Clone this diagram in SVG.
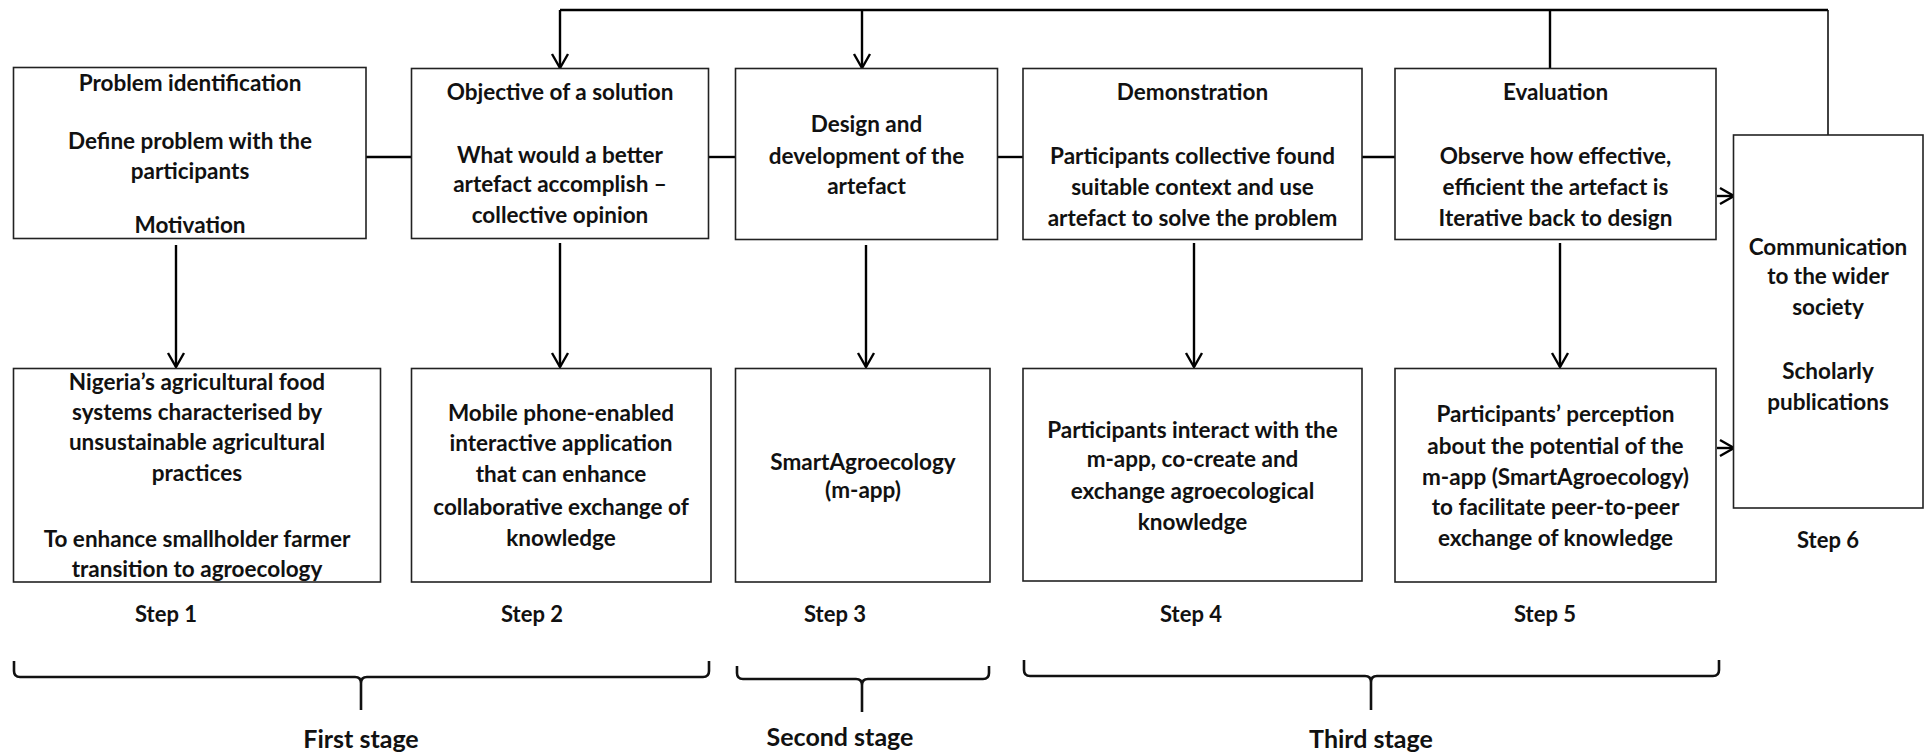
<svg xmlns="http://www.w3.org/2000/svg" width="1926" height="756" viewBox="0 0 1926 756">
  <defs>
    <marker id="arrow" viewBox="0 0 20 20" refX="18" refY="10" markerWidth="20" markerHeight="20" markerUnits="userSpaceOnUse" orient="auto">
      <path d="M4,2 L18,10 L4,18" fill="none" stroke="#000" stroke-width="2.4"/>
    </marker>
  </defs>
  <style>
    .box { fill: #fff; stroke: #222; stroke-width: 1.6; }
    .lbl { font-family: "Lato", "Liberation Sans", sans-serif; font-weight: bold; font-size: 22.5px; fill: #111; text-anchor: middle; }
    .step { font-family: "Lato", "Liberation Sans", sans-serif; font-weight: bold; font-size: 22px; fill: #111; text-anchor: middle; }
    .stage { font-family: "Lato", "Liberation Sans", sans-serif; font-weight: bold; font-size: 25px; fill: #111; text-anchor: middle; }
    .wire { fill: none; stroke: #000; stroke-width: 2.4; }
    .thin { fill: none; stroke: #111; stroke-width: 1.6; }
    .brace { fill: none; stroke: #111; stroke-width: 2.6; }
  </style>

  <!-- connectors -->
  <g id="connectors">
    <!-- feedback loop across the top -->
    <path class="wire" d="M560,10 H1828"/>
    <path class="wire" d="M560,10 V68" marker-end="url(#arrow)"/>
    <path class="wire" d="M862,10 V68" marker-end="url(#arrow)"/>
    <path class="wire" d="M1550,10 V69"/>
    <path class="thin" d="M1828,10 V135"/>
    <!-- links between the upper boxes -->
    <path class="wire" d="M366,157 H411"/>
    <path class="wire" d="M709,157 H736"/>
    <path class="wire" d="M997,157 H1023"/>
    <path class="wire" d="M1362,157 H1395"/>
    <!-- upper to lower row -->
    <path class="wire" d="M176,245 V367" marker-end="url(#arrow)"/>
    <path class="wire" d="M560,243 V367" marker-end="url(#arrow)"/>
    <path class="wire" d="M866,245 V367" marker-end="url(#arrow)"/>
    <path class="wire" d="M1194,243 V367" marker-end="url(#arrow)"/>
    <path class="wire" d="M1560,243 V367" marker-end="url(#arrow)"/>
    <!-- into step 6 -->
    <path class="wire" d="M1717,196 H1734" marker-end="url(#arrow)"/>
    <path class="wire" d="M1717,448 H1734" marker-end="url(#arrow)"/>
  </g>

  <!-- step 1 -->
  <g id="problem-identification">
    <rect class="box" x="13.5" y="67.5" width="352.5" height="171"/>
    <text class="lbl" x="190" y="91">Problem identification</text>
    <text class="lbl" x="190" y="149">Define problem with the</text>
    <text class="lbl" x="190" y="179">participants</text>
    <text class="lbl" x="190" y="233">Motivation</text>
  </g>
  <g id="step1-detail">
    <rect class="box" x="13.5" y="368.5" width="367" height="213.5"/>
    <text class="lbl" x="197" y="390">Nigeria’s agricultural food</text>
    <text class="lbl" x="197" y="419.5">systems characterised by</text>
    <text class="lbl" x="197" y="450">unsustainable agricultural</text>
    <text class="lbl" x="197" y="481">practices</text>
    <text class="lbl" x="197" y="547">To enhance smallholder farmer</text>
    <text class="lbl" x="197" y="576.5">transition to agroecology</text>
  </g>

  <!-- step 2 -->
  <g id="objective">
    <rect class="box" x="411.5" y="68.5" width="297" height="170"/>
    <text class="lbl" x="560" y="100">Objective of a solution</text>
    <text class="lbl" x="560" y="163">What would a better</text>
    <text class="lbl" x="560" y="192">artefact accomplish –</text>
    <text class="lbl" x="560" y="223">collective opinion</text>
  </g>
  <g id="step2-detail">
    <rect class="box" x="411.5" y="368.5" width="299.5" height="213.5"/>
    <text class="lbl" x="561" y="420.5">Mobile phone-enabled</text>
    <text class="lbl" x="561" y="451">interactive application</text>
    <text class="lbl" x="561" y="482">that can enhance</text>
    <text class="lbl" x="561" y="515">collaborative exchange of</text>
    <text class="lbl" x="561" y="546">knowledge</text>
  </g>

  <!-- step 3 -->
  <g id="design">
    <rect class="box" x="735.5" y="68.5" width="262" height="171"/>
    <text class="lbl" x="866.5" y="132">Design and</text>
    <text class="lbl" x="866.5" y="164">development of the</text>
    <text class="lbl" x="866.5" y="193.5">artefact</text>
  </g>
  <g id="step3-detail">
    <rect class="box" x="735.5" y="368.5" width="254.5" height="213.5"/>
    <text class="lbl" x="863" y="470">SmartAgroecology</text>
    <text class="lbl" x="863" y="498">(m-app)</text>
  </g>

  <!-- step 4 -->
  <g id="demonstration">
    <rect class="box" x="1023" y="68.5" width="339" height="171"/>
    <text class="lbl" x="1192.5" y="100">Demonstration</text>
    <text class="lbl" x="1192.5" y="164">Participants collective found</text>
    <text class="lbl" x="1192.5" y="194.5">suitable context and use</text>
    <text class="lbl" x="1192.5" y="225.5">artefact to solve the problem</text>
  </g>
  <g id="step4-detail">
    <rect class="box" x="1023" y="368.5" width="339" height="212.5"/>
    <text class="lbl" x="1192.5" y="438">Participants interact with the</text>
    <text class="lbl" x="1192.5" y="467">m-app, co-create and</text>
    <text class="lbl" x="1192.5" y="499">exchange agroecological</text>
    <text class="lbl" x="1192.5" y="530">knowledge</text>
  </g>

  <!-- step 5 -->
  <g id="evaluation">
    <rect class="box" x="1395" y="68.5" width="321" height="171"/>
    <text class="lbl" x="1555.5" y="100">Evaluation</text>
    <text class="lbl" x="1555.5" y="164">Observe how effective,</text>
    <text class="lbl" x="1555.5" y="194.5">efficient the artefact is</text>
    <text class="lbl" x="1555.5" y="225.5">Iterative back to design</text>
  </g>
  <g id="step5-detail">
    <rect class="box" x="1395" y="368.5" width="321" height="213.5"/>
    <text class="lbl" x="1555.5" y="422">Participants’ perception</text>
    <text class="lbl" x="1555.5" y="454">about the potential of the</text>
    <text class="lbl" x="1555.5" y="484.5">m-app (SmartAgroecology)</text>
    <text class="lbl" x="1555.5" y="515">to facilitate peer-to-peer</text>
    <text class="lbl" x="1555.5" y="546">exchange of knowledge</text>
  </g>

  <!-- step 6 -->
  <g id="communication">
    <rect class="box" x="1733.5" y="135" width="189.5" height="373"/>
    <text class="lbl" x="1828" y="255">Communication</text>
    <text class="lbl" x="1828" y="284">to the wider</text>
    <text class="lbl" x="1828" y="315">society</text>
    <text class="lbl" x="1828" y="379">Scholarly</text>
    <text class="lbl" x="1828" y="409.5">publications</text>
  </g>

  <!-- step numbers -->
  <g id="step-labels">
    <text class="step" x="166" y="622">Step 1</text>
    <text class="step" x="532" y="622">Step 2</text>
    <text class="step" x="835" y="622">Step 3</text>
    <text class="step" x="1191" y="622">Step 4</text>
    <text class="step" x="1545" y="622">Step 5</text>
    <text class="step" x="1828" y="548">Step 6</text>
  </g>

  <!-- stage braces -->
  <g id="first-stage">
    <path class="brace" d="M14,661 V671 Q14,677 20,677 H355 Q361,677 361,683 V710 M361,683 Q361,677 367,677 H703 Q709,677 709,671 V661"/>
    <text class="stage" x="361" y="748">First stage</text>
  </g>
  <g id="second-stage">
    <path class="brace" d="M737,666 V673 Q737,679 743,679 H856 Q862,679 862,685 V712 M862,685 Q862,679 868,679 H983 Q989,679 989,673 V666"/>
    <text class="stage" x="840" y="746">Second stage</text>
  </g>
  <g id="third-stage">
    <path class="brace" d="M1024,660 V670 Q1024,676 1030,676 H1365 Q1371,676 1371,682 V710 M1371,682 Q1371,676 1377,676 H1713 Q1719,676 1719,670 V660"/>
    <text class="stage" x="1371" y="748">Third stage</text>
  </g>
</svg>
